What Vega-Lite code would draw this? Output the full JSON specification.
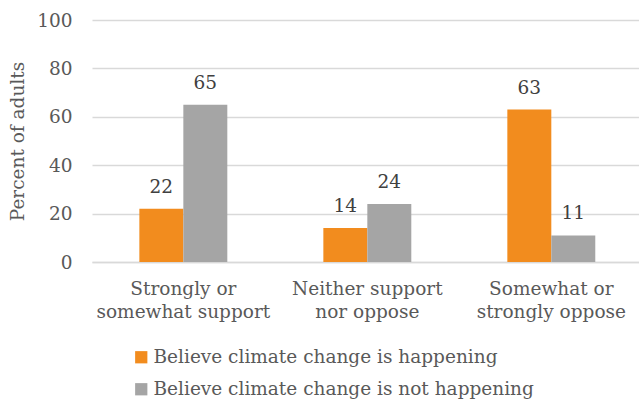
{
  "$schema": "https://vega.github.io/schema/vega-lite/v6.json",
  "width": 547,
  "height": 242,
  "autosize": {"type": "none"},
  "padding": {"left": 92, "top": 20, "right": 0, "bottom": 142},
  "background": "white",
  "config": {
    "font": "DejaVu Serif",
    "view": {"stroke": null},
    "axis": {"labelColor": "#595959", "titleColor": "#595959", "labelFontSize": 18.5, "titleFontSize": 18.5, "labelFontWeight": "normal", "titleFontWeight": "normal"}
  },
  "data": {
    "values": [
      {"view": "Strongly or|somewhat support", "belief": "Believe climate change is happening", "pct": 22},
      {"view": "Strongly or|somewhat support", "belief": "Believe climate change is not happening", "pct": 65},
      {"view": "Neither support|nor oppose", "belief": "Believe climate change is happening", "pct": 14},
      {"view": "Neither support|nor oppose", "belief": "Believe climate change is not happening", "pct": 24},
      {"view": "Somewhat or|strongly oppose", "belief": "Believe climate change is happening", "pct": 63},
      {"view": "Somewhat or|strongly oppose", "belief": "Believe climate change is not happening", "pct": 11}
    ]
  },
  "encoding": {
    "x": {
      "field": "view", "type": "nominal", "sort": null,
      "scale": {"paddingInner": 0.522, "paddingOuter": 0.2475, "align": 0.52},
      "axis": {"title": null, "labelAngle": 0, "ticks": false, "domainColor": "#d9d9d9", "domainWidth": 1.5, "labelPadding": 17, "labelLineHeight": 23, "labelExpr": "split(datum.label, '|')"}
    },
    "xOffset": {"field": "belief", "type": "nominal", "sort": null},
    "y": {
      "field": "pct", "type": "quantitative",
      "scale": {"domain": [0, 100]},
      "axis": {"title": "Percent of adults", "values": [0, 20, 40, 60, 80, 100], "ticks": false, "domain": false, "gridColor": "#d9d9d9", "gridWidth": 1.5, "labelPadding": 20, "titlePadding": 9}
    }
  },
  "layer": [
    {
      "mark": {"type": "bar"},
      "encoding": {
        "color": {
          "field": "belief", "type": "nominal", "sort": null,
          "scale": {"range": ["#f28c1e", "#a5a5a5"]},
          "legend": {"title": null, "orient": "none", "legendX": 40, "legendY": 328, "direction": "vertical", "symbolType": "square", "symbolSize": 150, "symbolStrokeWidth": 0, "labelFontSize": 18.5, "labelColor": "#595959", "rowPadding": 13, "labelOffset": 3, "labelLimit": 500}
        }
      }
    },
    {
      "mark": {"type": "text", "baseline": "alphabetic", "dy": -16, "fontSize": 18.5, "color": "#404040"},
      "encoding": {"text": {"field": "pct", "type": "quantitative"}}
    }
  ]
}
